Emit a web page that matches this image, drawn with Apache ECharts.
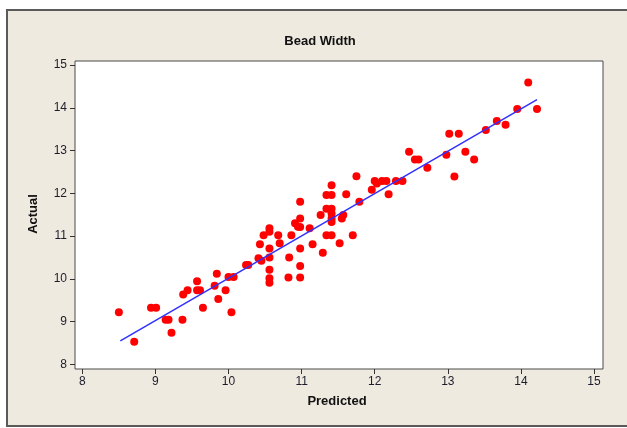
<!DOCTYPE html>
<html>
<head>
<meta charset="utf-8">
<script src="https://cdn.jsdelivr.net/npm/echarts@6/dist/echarts.min.js"></script>
<style>
  html, body { margin: 0; padding: 0; background: #ffffff; }
  #chart { width: 627px; height: 428px; }
</style>
</head>
<body>
<div id="chart"></div>
<script>
// Predicted vs. actual bead width (mm)
const predicted = [
  8.50, 8.71, 8.94, 9.01, 9.14, 9.18, 9.22, 9.37, 9.38, 9.44,
  9.57, 9.57, 9.61, 9.65, 9.81, 9.84, 9.86, 9.96, 10.00, 10.04,
  10.07, 10.24, 10.27, 10.41, 10.45, 10.43, 10.48, 10.56, 10.56, 10.56,
  10.56, 10.56, 10.56, 10.56, 10.68, 10.70, 10.82, 10.83, 10.86, 10.91,
  10.95, 10.98, 10.98, 10.98, 10.98, 10.98, 10.98, 11.11, 11.15, 11.29,
  11.26, 11.34, 11.41, 11.41, 11.34, 11.41, 11.41, 11.41, 11.41, 11.34,
  11.41, 11.52, 11.55, 11.57, 11.61, 11.70, 11.75, 11.79, 11.96, 12.00,
  12.03, 12.10, 12.16, 12.19, 12.29, 12.38, 12.47, 12.55, 12.60, 12.72,
  12.98, 13.02, 13.15, 13.09, 13.24, 13.36, 13.52, 13.67, 13.79, 13.95,
  14.10, 14.22
];
const actual = [
  9.22, 8.53, 9.32, 9.32, 9.04, 9.04, 8.74, 9.04, 9.63, 9.73,
  9.94, 9.73, 9.73, 9.32, 9.84, 10.12, 9.53, 9.73, 10.04, 9.22,
  10.04, 10.32, 10.32, 10.48, 10.42, 10.81, 11.02, 11.18, 11.10, 10.71,
  10.50, 10.21, 10.01, 9.91, 11.02, 10.83, 10.03, 10.50, 11.02, 11.30,
  11.22, 11.80, 11.41, 11.21, 10.71, 10.30, 10.03, 11.18, 10.81, 10.61,
  11.49, 11.96, 11.96, 12.19, 11.64, 11.64, 11.53, 11.41, 11.33, 11.02,
  11.02, 10.83, 11.41, 11.49, 11.98, 11.02, 12.40, 11.80, 12.08, 12.29,
  12.23, 12.29, 12.29, 11.98, 12.29, 12.29, 12.97, 12.79, 12.79, 12.60,
  12.90, 13.39, 13.39, 12.39, 12.97, 12.79, 13.48, 13.69, 13.60, 13.97,
  14.59, 13.97
];

// Fitted line end points
const fitX = [8.52, 14.22];
const fitY = [8.55, 14.19];

// Axis tick labels
const xTicks = [8, 9, 10, 11, 12, 13, 14, 15];
const yTicks = [8, 9, 10, 11, 12, 13, 14, 15];

const chart = echarts.init(document.getElementById('chart'), null, { renderer: 'canvas' });

const labelFont = { color: '#1c1c2a', fontFamily: 'Liberation Sans', fontSize: 12 };

chart.setOption({
  backgroundColor: '#ffffff',
  animation: false,
  graphic: [
    {
      type: 'rect', z: -10, silent: true,
      shape: { x: 7, y: 10, width: 640, height: 416 },
      style: { fill: '#eeeae0', stroke: '#5a5a5a', lineWidth: 2 }
    },
    {
      type: 'text', z: 10, x: 320, y: 41,
      style: { text: 'Bead Width', align: 'center', verticalAlign: 'middle',
               font: 'bold 13px "Liberation Sans"', fill: '#111111' }
    },
    {
      type: 'text', z: 10, x: 337, y: 401,
      style: { text: 'Predicted', align: 'center', verticalAlign: 'middle',
               font: 'bold 13px "Liberation Sans"', fill: '#111111' }
    },
    {
      type: 'text', z: 10, x: 33, y: 214, rotation: Math.PI / 2,
      style: { text: 'Actual', align: 'center', verticalAlign: 'middle',
               font: 'bold 13px "Liberation Sans"', fill: '#111111' }
    }
  ],
  grid: {
    left: 75, right: 24, top: 61, bottom: 59,
    show: true, backgroundColor: '#ffffff', borderColor: '#4a4a4a', borderWidth: 1
  },
  xAxis: {
    type: 'value', min: 7.90, max: 15.123,
    splitLine: { show: false },
    axisLine: { show: false },
    axisTick: { show: true, customValues: xTicks, length: 5, inside: false,
                lineStyle: { color: '#333333', width: 1 } },
    axisLabel: Object.assign({ customValues: xTicks, margin: 7 }, labelFont)
  },
  yAxis: {
    type: 'value', min: 7.89, max: 15.094,
    splitLine: { show: false },
    axisLine: { show: false },
    axisTick: { show: true, customValues: yTicks, length: 5, inside: false,
                lineStyle: { color: '#333333', width: 1 } },
    axisLabel: Object.assign({ customValues: yTicks, margin: 8 }, labelFont)
  },
  series: [
    {
      type: 'scatter',
      data: predicted.map((p, i) => [p, actual[i]]),
      symbol: 'circle', symbolSize: 8,
      itemStyle: { color: '#ff0000', opacity: 1 },
      z: 3
    },
    {
      type: 'line',
      data: fitX.map((x, i) => [x, fitY[i]]),
      symbol: 'none',
      lineStyle: { color: '#3030ff', width: 1.5 },
      z: 4
    }
  ]
});
</script>
</body>
</html>
